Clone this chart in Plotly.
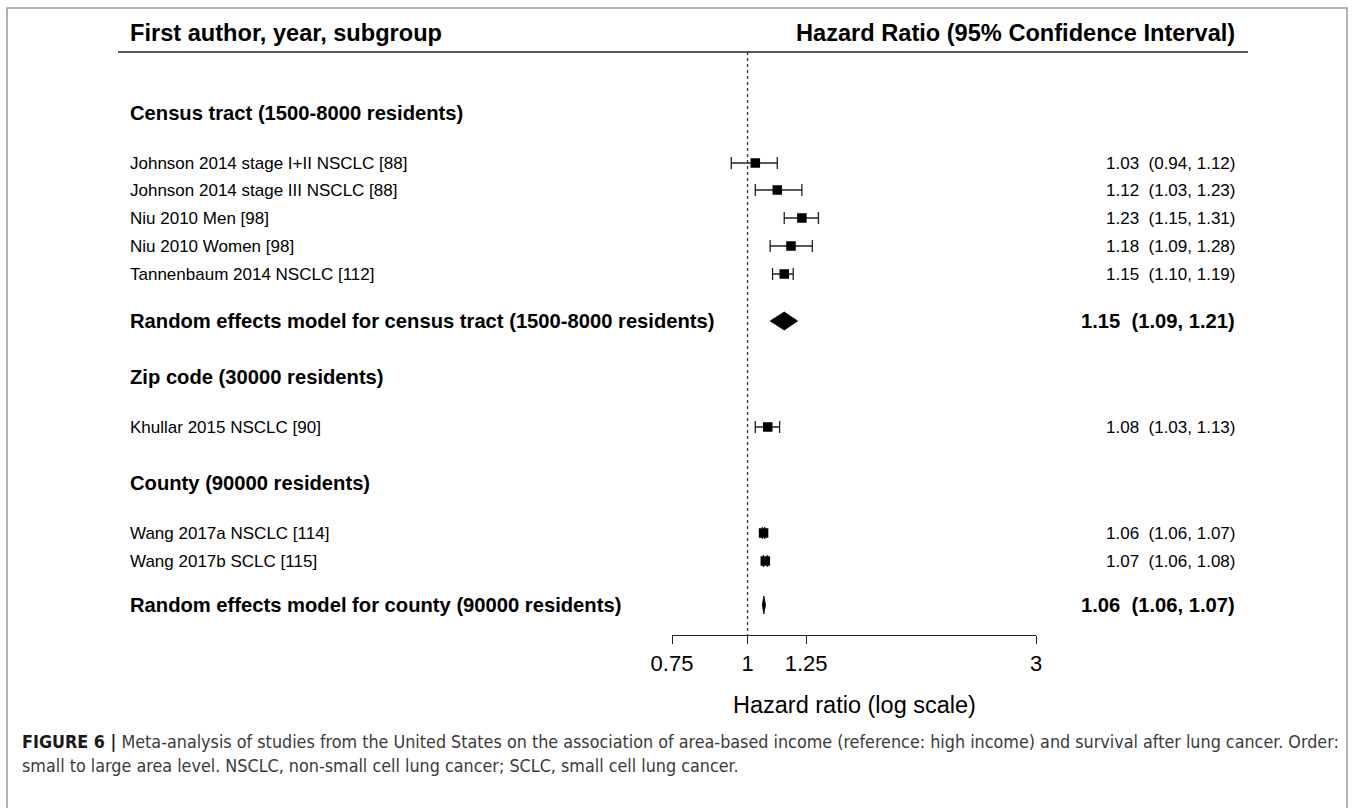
import math
import plotly.graph_objects as go

# ---------------- data ----------------
header_left = "First author, year, subgroup"
header_right = "Hazard Ratio (95% Confidence Interval)"

group_labels = ["Census tract (1500-8000 residents)",
                "Zip code (30000 residents)",
                "County (90000 residents)"]

study_labels = ["Johnson 2014 stage I+II NSCLC [88]",
                "Johnson 2014 stage III NSCLC [88]",
                "Niu 2010 Men [98]",
                "Niu 2010 Women [98]",
                "Tannenbaum 2014 NSCLC [112]",
                "Khullar 2015 NSCLC [90]",
                "Wang 2017a NSCLC [114]",
                "Wang 2017b SCLC [115]"]
study_hr = [1.03, 1.12, 1.23, 1.18, 1.15, 1.08, 1.063, 1.070]
study_lo = [0.94, 1.03, 1.15, 1.09, 1.10, 1.03, 1.058, 1.062]
study_hi = [1.12, 1.23, 1.31, 1.28, 1.19, 1.13, 1.068, 1.078]

re_labels = ["Random effects model for census tract (1500-8000 residents)",
             "Random effects model for county (90000 residents)"]
re_est = [1.15, 1.064]
re_lo = [1.09, 1.058]
re_hi = [1.21, 1.071]

tick_vals = [0.75, 1, 1.25, 3]
tick_text = ["0.75", "1", "1.25", "3"]
x_title = "Hazard ratio (log scale)"

caption_bold = "FIGURE 6 |"
caption_line1 = (" Meta-analysis of studies from the United States on the association of "
                 "area-based income (reference: high income) and survival after lung cancer. Order:")
caption_line2 = "small to large area level. NSCLC, non-small cell lung cancer; SCLC, small cell lung cancer."

# ---------------- layout (pixels) ----------------
W, H = 1357, 808
header_y = 33
rule_y = 52
group_y = [113, 377, 483]
study_y = [163, 190, 218, 246, 274, 427, 533, 561]
re_y = [321, 605]
axis_y = 635
x_left = 128
x_right = 1237
axis_px = (672, 1036)
FONT = "Liberation Sans, Arial, Helvetica, sans-serif"
CAP_FONT = "Liberation Sans Narrow, Arial Narrow, DejaVu Sans Condensed, sans-serif"


def px(x):
    return x / W


fig = go.Figure()

# reference line at HR = 1
fig.add_trace(go.Scatter(x=[1, 1], y=[rule_y, axis_y], mode="lines",
                         line=dict(color="#333333", width=1.3, dash="dot"),
                         hoverinfo="skip"))

# study estimates with CIs
fig.add_trace(go.Scatter(
    x=study_hr, y=study_y, mode="markers",
    marker=dict(symbol="square", size=9.5, color="black"),
    error_x=dict(type="data", symmetric=False,
                 array=[h - e for h, e in zip(study_hi, study_hr)],
                 arrayminus=[e - l for e, l in zip(study_hr, study_lo)],
                 color="#222222", thickness=1.3, width=6),
    hoverinfo="skip"))

# pooled diamonds
half_h = 9
for est, lo, hi, yy in zip(re_est, re_lo, re_hi, re_y):
    fig.add_trace(go.Scatter(x=[lo, est, hi, est, lo],
                             y=[yy, yy - half_h, yy, yy + half_h, yy],
                             mode="lines", fill="toself", fillcolor="black",
                             line=dict(color="black", width=0.8), hoverinfo="skip"))

ann = []


def add_text(text, x, y, size, anchor="left", bold=False, color="black", family=FONT):
    ann.append(dict(text=("<b>%s</b>" % text) if bold else text,
                    x=px(x), y=y, xref="paper", yref="y",
                    xanchor=anchor, yanchor="middle", showarrow=False,
                    font=dict(family=family, size=size, color=color)))


def fmt(e, l, h):
    return "%.2f\u00a0\u00a0(%.2f, %.2f)" % (e, l, h)


add_text(header_left, x_left, header_y, 23.6, bold=True)
add_text(header_right, x_right, header_y, 23.6, anchor="right", bold=True)
for g, yy in zip(group_labels, group_y):
    add_text(g, x_left, yy, 20.2, bold=True)
for s, e, l, h, yy in zip(study_labels, study_hr, study_lo, study_hi, study_y):
    add_text(s, x_left, yy, 17)
    add_text(fmt(e, l, h), x_right, yy, 17, anchor="right")
for s, e, l, h, yy in zip(re_labels, re_est, re_lo, re_hi, re_y):
    add_text(s, x_left, yy, 20.2, bold=True)
    add_text(fmt(e, l, h), x_right, yy, 20.2, anchor="right", bold=True)

add_text(x_title, (axis_px[0] + axis_px[1]) / 2, 705, 23.5, anchor="center")

ann.append(dict(text="<b>%s</b><span style='color:#3a3a3a'>%s</span>" % (caption_bold, caption_line1),
                x=px(20), y=741, xref="paper", yref="y", xanchor="left", yanchor="middle",
                showarrow=False, font=dict(family=CAP_FONT, size=17.8, color="#1a1a1a")))
ann.append(dict(text=caption_line2,
                x=px(20), y=765, xref="paper", yref="y", xanchor="left", yanchor="middle",
                showarrow=False, font=dict(family=CAP_FONT, size=17.8, color="#3a3a3a")))

shapes = [
    dict(type="line", xref="paper", yref="y", x0=px(118), x1=px(1248), y0=rule_y, y1=rule_y,
         line=dict(color="#222222", width=1.6)),
    dict(type="rect", xref="paper", yref="paper", x0=px(7), x1=px(1347), y0=-0.02, y1=1 - 8 / H,
         line=dict(color="#9a9a9a", width=1.5), fillcolor="rgba(0,0,0,0)"),
]

fig.update_layout(
    width=W, height=H, margin=dict(l=0, r=0, t=0, b=0, autoexpand=False),
    paper_bgcolor="white", plot_bgcolor="white", showlegend=False,
    annotations=ann, shapes=shapes,
    xaxis=dict(type="log", domain=[px(axis_px[0]), px(axis_px[1])],
               range=[math.log10(tick_vals[0]), math.log10(tick_vals[-1])],
               anchor="free", position=1 - axis_y / H, automargin=False,
               showgrid=False, zeroline=False, showline=True, linecolor="#222222", linewidth=1.3,
               ticks="outside", ticklen=8, tickwidth=1.3, tickcolor="#222222",
               tickvals=tick_vals, ticktext=tick_text,
               tickfont=dict(family=FONT, size=22, color="black")),
    yaxis=dict(domain=[0, 1], range=[H, 0], visible=False, showgrid=False, zeroline=False,
               automargin=False),
)

fig.write_html("out.html")
